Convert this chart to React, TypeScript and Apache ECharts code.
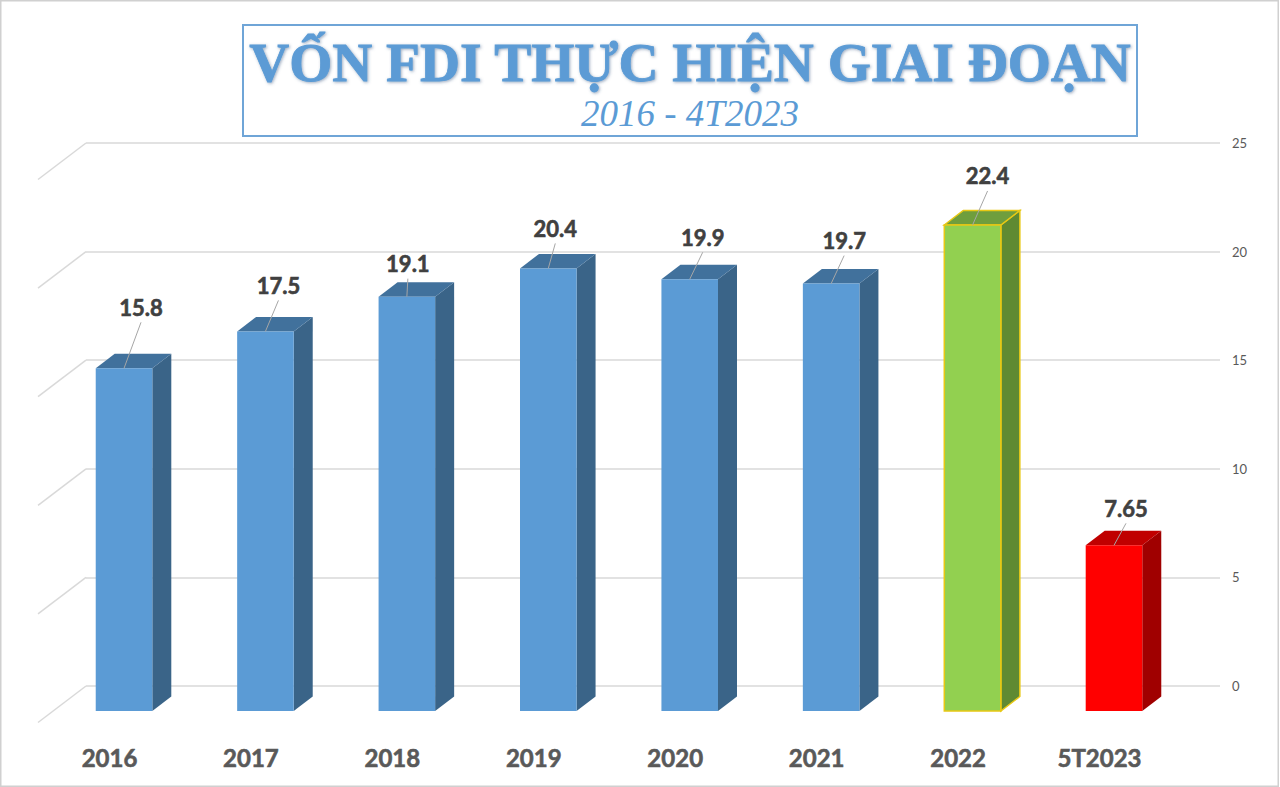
import React, { useEffect, useRef } from "react";
import * as echarts from "echarts";

const categories = ["2016", "2017", "2018", "2019", "2020", "2021", "2022", "5T2023"];
const values = [15.8, 17.5, 19.1, 20.4, 19.9, 19.7, 22.4, 7.65];
const valueLabels = ["15.8", "17.5", "19.1", "20.4", "19.9", "19.7", "22.4", "7.65"];
const wallTicks = [0, 5, 10, 15, 20, 25];
const titleLine = "VỐN FDI THỰC HIỆN GIAI ĐOẠN";
const subtitleLine = "2016 - 4T2023";

const BLUE = { front: "#5B9BD5", side: "#3A6488", top: "#41719C", border: "none" };
const GREEN = { front: "#92D050", side: "#5F8A32", top: "#6F9E3D", border: "#E8C814" };
const RED = { front: "#FF0000", side: "#A00000", top: "#C00000", border: "none" };
const barThemes = [BLUE, BLUE, BLUE, BLUE, BLUE, BLUE, GREEN, RED];
// offset of each value label from the middle of its bar's top front edge
const labelOffsets = [
  [17, -61], [13, -46], [1, -33], [7, -40], [13, -42], [13, -43], [15, -49], [12, -37],
];

const DEPTH_X = 19;
const DEPTH_Y = 14.5;
const BAR_SHIFT = 14.5;

function renderBar(params: any, api: any) {
  const i = api.value(0);
  const top = api.coord([i, api.value(1)]);
  const base = api.coord([i, 0]);
  const w = api.size([1, 0])[0] * 0.4;
  const l = top[0] + BAR_SHIFT - w / 2;
  const r = l + w;
  const t = top[1] + 0.5;
  const b = base[1];
  const th = barThemes[i];
  const stroke = th.border === "none" ? undefined : th.border;
  const edge = (fill: string) => ({ fill, stroke, lineWidth: stroke ? 1.5 : 0 });
  const cx = l + w / 2;
  const [ox, oy] = labelOffsets[i];
  return {
    type: "group",
    children: [
      {
        type: "polygon",
        shape: { points: [[r, t], [r + DEPTH_X, t - DEPTH_Y], [r + DEPTH_X, b - DEPTH_Y], [r, b]] },
        style: edge(th.side),
      },
      {
        type: "polygon",
        shape: { points: [[l, t], [l + DEPTH_X, t - DEPTH_Y], [r + DEPTH_X, t - DEPTH_Y], [r, t]] },
        style: edge(th.top),
      },
      {
        type: "polygon",
        shape: { points: [[l, t], [r, t], [r, b], [l, b]] },
        style: edge(th.front),
      },
      {
        type: "line",
        shape: { x1: cx, y1: t, x2: cx + ox, y2: t + oy + 15 },
        style: { stroke: "#A6A6A6", lineWidth: 1 },
      },
      {
        type: "text",
        x: cx + ox,
        y: t + oy,
        style: {
          text: valueLabels[i],
          align: "center",
          verticalAlign: "middle",
          fontFamily: "Lato",
          fontWeight: "bold",
          fontSize: 22,
          fill: "#404040",
          stroke: "#404040",
          lineWidth: 0.6,
        },
      },
    ],
  };
}

function renderDiagonal(params: any, api: any) {
  const p = api.coord([0, api.value(0)]);
  return {
    type: "line",
    shape: { x1: p[0], y1: p[1], x2: p[0] - 48, y2: p[1] + 36.5 },
    style: { stroke: "#D9D9D9", lineWidth: 1.5 },
  };
}

export default function App() {
  const ref = useRef<HTMLDivElement>(null);
  useEffect(() => {
    const chart = echarts.init(ref.current!, undefined, { renderer: "svg" });
    chart.setOption({
      animation: false,
      backgroundColor: "#FFFFFF",
      grid: [
        { left: 86, top: 143, width: 1134, height: 543 },
        { left: 38.8, top: 168, width: 1131.4, height: 543 },
      ],
      xAxis: [
        { type: "value", gridIndex: 0, min: 0, max: 1, show: false },
        {
          type: "category",
          gridIndex: 1,
          data: categories,
          axisLine: { show: false },
          axisTick: { show: false },
          axisLabel: {
            margin: 34,
            fontFamily: "Lato",
            fontWeight: "bold",
            fontSize: 24,
            color: "#595959",
            textBorderColor: "#595959",
            textBorderWidth: 0.6,
            interval: 0,
          },
        },
      ],
      yAxis: [
        {
          type: "value",
          gridIndex: 0,
          position: "right",
          min: 0,
          max: 25,
          interval: 5,
          axisLine: { show: false },
          axisTick: { show: false },
          axisLabel: { margin: 12, fontFamily: "Lato", fontSize: 13, color: "#595959" },
          splitLine: { lineStyle: { color: "#D9D9D9", width: 1.5 } },
        },
        { type: "value", gridIndex: 1, min: 0, max: 25, interval: 5, show: false },
      ],
      series: [
        {
          type: "custom",
          xAxisIndex: 0,
          yAxisIndex: 0,
          clip: false,
          silent: true,
          encode: { x: -1, y: 0 },
          data: wallTicks.map((v) => [v]),
          renderItem: renderDiagonal,
        },
        {
          type: "custom",
          xAxisIndex: 1,
          yAxisIndex: 1,
          clip: false,
          encode: { x: 0, y: 1 },
          data: values.map((v, i) => [i, v]),
          renderItem: renderBar,
        },
      ],
      graphic: [
        {
          type: "rect",
          z: 1,
          silent: true,
          shape: { x: 0.75, y: 0.75, width: 1277.5, height: 785.5 },
          style: { fill: "none", stroke: "#D0D0D0", lineWidth: 1.5 },
        },
        {
          type: "rect",
          z: 5,
          shape: { x: 243, y: 25, width: 894, height: 111 },
          style: { fill: "#FFFFFF", stroke: "#6FA5D7", lineWidth: 2 },
        },
        {
          type: "text",
          z: 6,
          x: 690,
          y: 62,
          style: {
            text: titleLine,
            align: "center",
            verticalAlign: "middle",
            fontFamily: "Liberation Serif",
            fontWeight: "bold",
            fontSize: 55.4,
            fill: "#5B9BD5",
            stroke: "#5B9BD5",
            lineWidth: 0.8,
            textShadowColor: "rgba(60,90,130,0.5)",
            textShadowBlur: 3,
            textShadowOffsetX: 1,
            textShadowOffsetY: 1,
          },
        },
        {
          type: "text",
          z: 6,
          x: 690,
          y: 113,
          style: {
            text: subtitleLine,
            align: "center",
            verticalAlign: "middle",
            fontFamily: "Liberation Serif",
            fontStyle: "italic",
            fontSize: 37,
            fill: "#5B9BD5",
          },
        },
      ],
    });
    return () => chart.dispose();
  }, []);
  return <div ref={ref} style={{ position: "fixed", left: 0, top: 0, width: 1280, height: 787 }} />;
}
